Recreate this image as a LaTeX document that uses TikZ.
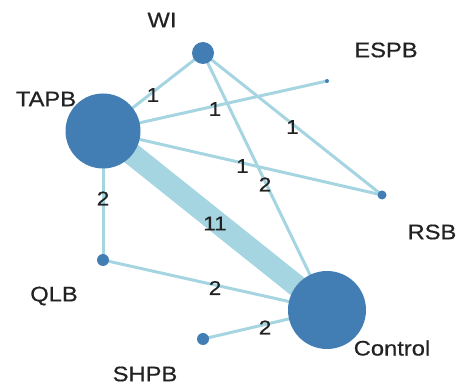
\documentclass[tikz,border=0pt]{standalone}
\usepackage{fontspec}
\setmainfont{Liberation Sans}[FakeStretch=1.13,FakeBold=0.6]
\definecolor{nodeblue}{RGB}{66,126,180}
\definecolor{edgeblue}{RGB}{166,213,226}
\definecolor{labelgray}{RGB}{34,34,34}
\pgfdeclarelayer{edges}
\pgfsetlayers{edges,main}
\begin{document}
\begin{tikzpicture}[x=1pt,y=-1pt,
  vertex/.style={circle,fill=nodeblue,draw=none,inner sep=0pt,minimum size=#1},
  link/.style={draw=edgeblue,line width=3pt},
  heavy/.style={draw=edgeblue,line width=22pt},
  tag/.style={font=\fontsize{21}{21}\selectfont,text=labelgray,inner sep=0pt},
  weight/.style={font=\fontsize{20}{20}\selectfont,text=labelgray,inner sep=0pt,midway,yshift=-3pt},
]
\useasboundingbox (0,0) rectangle (463,387);

% treatments
\node[vertex=22pt] (wi)   at (203,53)  {};
\node[vertex=75pt] (tapb) at (103,131) {};
\node[vertex=4pt]  (espb) at (327,81)  {};
\node[vertex=9pt]  (rsb)  at (382,195) {};
\node[vertex=12pt] (qlb)  at (103,260) {};
\node[vertex=12pt] (shpb) at (203,339) {};
\node[vertex=78pt] (ctrl) at (327,310) {};

% names
\node[tag] (wiT)   at (162,20)  {WI};
\node[tag] (tapbT) at (46,99)   {TAPB};
\node[tag] (espbT) at (386,50)  {ESPB};
\node[tag] (rsbT)  at (432,232) {RSB};
\node[tag] (qlbT)  at (54,296)  {QLB};
\node[tag] (shpbT) at (145,374) {SHPB};
\node[tag] (ctrlT) at (392,348) {Control};

% comparisons, weighted by number of studies
\begin{pgfonlayer}{edges}
  \draw[heavy] (tapb.center) -- node[weight] (w11) {11} (ctrl.center);
  \draw[link] (wi.center)   -- node[weight] (w1)  {1} (tapb.center);
  \draw[link] (tapb.center) -- node[weight] (w2)  {1} (espb.center);
  \draw[link] (wi.center)   -- node[weight] (w3)  {1} (rsb.center);
  \draw[link] (tapb.center) -- node[weight] (w4)  {1} (rsb.center);
  \draw[link] (wi.center)   -- node[weight] (w5)  {2} (ctrl.center);
  \draw[link] (tapb.center) -- node[weight] (w6)  {2} (qlb.center);
  \draw[link] (qlb.center)  -- node[weight] (w7)  {2} (ctrl.center);
  \draw[link] (shpb.center) -- node[weight] (w8)  {2} (ctrl.center);
\end{pgfonlayer}
\end{tikzpicture}
\end{document}
